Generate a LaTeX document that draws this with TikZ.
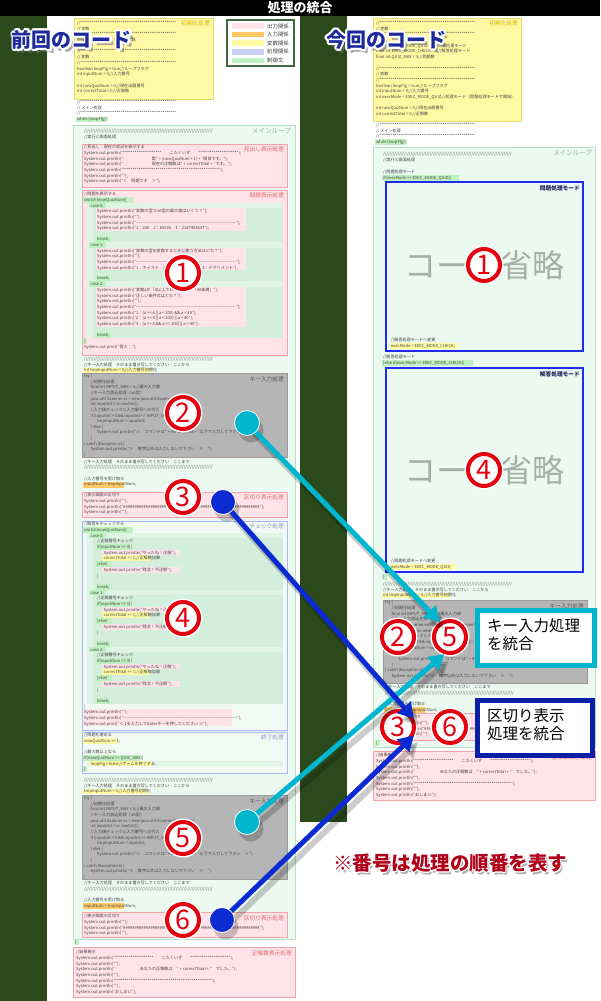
\documentclass[tikz,border=0pt]{standalone}
\usepackage{fontspec}
\setmainfont{Noto Sans CJK JP}
\usetikzlibrary{arrows.meta,positioning}
\definecolor{bggreen}{HTML}{2B4A1C}
\definecolor{varfill}{HTML}{FFF9A3}
\definecolor{vardraw}{HTML}{E6DA72}
\definecolor{varlbl}{HTML}{D2B400}
\definecolor{loopfill}{HTML}{EBF9F0}
\definecolor{loopdraw}{HTML}{B5E2C2}
\definecolor{looplbl}{HTML}{8DB59C}
\definecolor{outfill}{HTML}{FFE3E9}
\definecolor{outdraw}{HTML}{F2A3A8}
\definecolor{outlbl}{HTML}{E06A6A}
\definecolor{infill}{HTML}{FFC966}
\definecolor{keyfill}{HTML}{B5B5B5}
\definecolor{keydraw}{HTML}{9A9A9A}
\definecolor{keylbl}{HTML}{555555}
\definecolor{procfill}{HTML}{F0F9F4}
\definecolor{procdraw}{HTML}{A9B6F2}
\definecolor{proclbl}{HTML}{8A96C6}
\definecolor{procsw}{HTML}{C7CFF6}
\definecolor{ctrlfill}{HTML}{BFF0BF}
\definecolor{casefill}{HTML}{E0F4E6}
\definecolor{casefilldk}{HTML}{D3EEDB}
\definecolor{modedraw}{HTML}{1F2BF0}
\definecolor{modetxt}{HTML}{1E2060}
\definecolor{legenddraw}{HTML}{3D6B3D}
\definecolor{codetxt}{HTML}{444444}
\definecolor{numred}{HTML}{E4000F}
\definecolor{keycyan}{HTML}{00B6CF}
\definecolor{sepblue}{HTML}{0A2BD2}
\definecolor{noteblue}{HTML}{0A1FA8}
\definecolor{titleblue}{HTML}{1C2A9C}
\definecolor{notered}{HTML}{B0001A}
\definecolor{omitgray}{HTML}{A6AEA8}
% code helpers
\newcommand\codestars{**********}
\newcommand\codeslash{//////////}
\newcommand\codehash{\#\#\#\#\#\#\#\#\#\#}
\newcommand\codedash{-{}-{}-{}-{}-{}-{}-{}-{}-{}-{}}
\newcommand\cind{\hspace*{6.5pt}}
\newcommand\keyinputcode{try \{\\
\cind//初期化処理\\
\cind final int INPUT\_MAX = 3;//最大入力値\\
\cind//キー入力読込処理（int型）\\
\cind java.util.Scanner sc = new java.util.Scanner(System.in);\\
\cind int inputInt = sc.nextInt();\\
\cind//入力値チェックと入力番号への代入\\
\cind if (inputInt > 0 \&\& inputInt <= INPUT\_MAX) \{\\
\cind\cind tmpInputNum = inputInt;\\
\cind\} else \{\\
\cind\cind System.out.println("※　コマンドは" + INPUT\_MAX + "以下で入力して下さい　※");\\
\cind\}\\
\} catch (Exception e) \{\\
\cind System.out.println("※　数字以外は入力しないで下さい　※　");\\
\}}
\newcommand\sepcode{//表示画面の区切り\\
System.out.println("");\\
System.out.println("\codehash\codehash\codehash\codehash\codehash\codehash");\\
System.out.println("");}
\newcommand\resultcode{//結果表示\\
System.out.println("\codestars\codestars　　こたくいず　　\codestars\codestars");\\
System.out.println("");\\
System.out.println("　　　　　　あなたの正解数は　" + correctTotal + "　でした。");\\
System.out.println("");\\
System.out.println("\codestars\codestars\codestars\codestars\codestars");\\
System.out.println("");\\
System.out.println("おしまい");}

\begin{document}
\begin{tikzpicture}[x=1pt,y=-1pt]%
\tikzstyle{code}=[anchor=north west,inner sep=0pt,align=left,text=codetxt,font=\fontsize{4.1}{5.7}\selectfont]
\tikzstyle{keycode}=[code,font=\fontsize{4.1}{5.65}\selectfont]
\tikzstyle{boxlbl}=[anchor=north east,inner sep=0pt,font=\fontsize{5.7}{6}\selectfont]
\tikzstyle{looplbl}=[boxlbl,text=looplbl,font=\fontsize{6.5}{7}\selectfont]
\tikzstyle{legendtxt}=[anchor=west,inner sep=0pt,text=black!75,font=\fontsize{5.4}{6}\selectfont]
\tikzstyle{varbox}=[fill=varfill,draw=vardraw,line width=0.8pt]
\tikzstyle{loopbox}=[fill=loopfill,draw=loopdraw,line width=0.8pt]
\tikzstyle{outbox}=[fill=outfill,draw=outdraw,line width=0.8pt]
\tikzstyle{keybox}=[fill=keyfill,draw=keydraw,line width=0.6pt]
\tikzstyle{procbox}=[fill=procfill,draw=procdraw,line width=0.8pt]
\tikzstyle{modebox}=[fill=loopfill,draw=modedraw,line width=1.6pt]
\tikzstyle{modelbl}=[boxlbl,text=modetxt,font=\bfseries\fontsize{5.7}{6}\selectfont]
\tikzstyle{omit}=[text=omitgray,inner sep=0pt,font=\fontsize{32}{32}\selectfont]
\tikzstyle{numc}=[circle,draw=numred,line width=4pt,fill=white,minimum size=32pt,inner sep=0pt,text=numred,font=\fontsize{27}{27}\selectfont,preaction={draw=white,line width=7pt}]
\tikzstyle{ballc}=[circle,fill=keycyan,draw=white,line width=0.8pt,minimum size=25pt,inner sep=0pt]
\tikzstyle{ballb}=[circle,fill=sepblue,draw=white,line width=0.8pt,minimum size=25pt,inner sep=0pt]
\tikzstyle{arrc}=[keycyan,line width=5pt,-{Triangle[length=15pt,width=17pt]}]
\tikzstyle{arrb}=[sepblue,line width=5pt,-{Triangle[length=15pt,width=17pt]}]
\tikzstyle{shadowline}=[black,opacity=0.2,line width=6pt,-{Triangle[length=15pt,width=17pt]}]
\tikzstyle{notebox}=[fill=white,line width=4.5pt,anchor=north west,inner sep=0pt]
\tikzstyle{notetxt}=[anchor=north west,inner sep=0pt,align=left,text=black,font=\fontsize{15.5}{18}\selectfont]
\tikzstyle{headtxt}=[inner sep=0pt,font=\bfseries\fontsize{20}{20}\selectfont]
\useasboundingbox (0,0) rectangle (600,1001);
% background
\fill[bggreen] (0,0) rectangle (600,1001);
\fill[white] (47,15) rectangle (300,1001);
\fill[white] (347,15) rectangle (600,1001);
\fill[white] (300,822) rectangle (347,1001);
\fill[black] (0,0) rectangle (600,15.5);
\node[text=white,font=\bfseries\fontsize{13}{13}\selectfont] (title) at (300,8) {処理の統合};

% ---- previous code ----
\draw[varbox] (74,18) rectangle (213,99);
\node[boxlbl,text=varlbl] (initLt) at (210,21) {初期化処理};
\node[code] (initL) at (77,21) {//\codestars\codestars\codestars\codestars\codestars\\
// 定数\\
//\codestars\codestars\codestars\codestars\codestars\\
final int QUIZ\_MAX = 3;//問題数\\[5.7pt]
//\codestars\codestars\codestars\codestars\codestars\\
// 変数\\
//\codestars\codestars\codestars\codestars\codestars\\
boolean loopFlg = true;//ループフラグ\\
int inputNum = 0;//入力番号\\[5.7pt]
int nowQuizNum = 0;//現在出題番号\\
int correctTotal = 0;//正解数};
\draw[legenddraw,fill=white,line width=1.2pt] (227,20) rectangle (294,66);
\foreach \c/\t [count=\i] in {outfill/出力関係,infill/入力関係,varfill/変数関係,procsw/処理関係,ctrlfill/制御文}
  {\fill[\c] (232,14.6+\i*8.6) rectangle (264,20.2+\i*8.6);
   \node[legendtxt] (leg\i) at (267,17.4+\i*8.6) {\t};}
\fill[ctrlfill] (76,116.6) rectangle (107,122.4);
\node[code] (mainL) at (77,100) {//\codestars\codestars\codestars\codestars\codestars\\
// メイン処理\\
//\codestars\codestars\codestars\codestars\codestars\\
while (loopFlg) \{};
\draw[loopbox] (73,125) rectangle (295,939);
\node[looplbl] (loopLt) at (291,128) {メインループ};
\node[code] (loopLh) at (84,129) {\codeslash\codeslash\codeslash\codeslash\codeslash\codeslash\codeslash\codeslash\\//実行と画面処理};
% heading
\draw[outbox] (82,144) rectangle (287,187);
\node[boxlbl,text=outlbl] (headLt) at (284,147) {見出し表示処理};
\node[code] (headL) at (84,145) {//見出し：現在の状況を表示する\\
System.out.println("\codestars\codestars　　こたくいず　　\codestars\codestars");\\
System.out.println("　　　　　　　第" + (nowQuizNum + 1) + "問目です。");\\
System.out.println("　　　　　　　現在の正解数は" + correctTotal + "です。");\\
System.out.println("\codestars\codestars\codestars\codestars\codestars");\\
System.out.println("");\\
System.out.println("＜　問題です　＞");};
% quiz
\draw[outbox] (82,190) rectangle (287,355);
\node[boxlbl,text=outlbl] (quizLt) at (284,193) {問題表示処理};
\fill[ctrlfill] (83,196.8) rectangle (133,202.6);
\fill[casefill] (87,202.6) rectangle (283,338);
\foreach \a/\b/\c in {208.2/231.1/236.2,247.6/270.4/275.5,286.9/326.8/332.2}{
  \fill[casefilldk] (93,\a) rectangle (283,\c+5.7);
  \fill[outfill] (96,\a) rectangle (246,\b);
  \fill[ctrlfill] (96,\c) rectangle (110,\c+5.7);
  \fill[ctrlfill] (89,\a-5.6) rectangle (106,\a);}
\fill[ctrlfill] (83,337.9) rectangle (87,343.6);
\fill[outfill] (83,343.6) rectangle (141,349.3);
\node[code] (quizL) at (84,192) {//問題を表示する\\
switch(nowQuizNum)\{\\
\cind case 0:\\
\cind\cind System.out.println("変数の型でint型の最大値はいくつ？");\\
\cind\cind System.out.println("");\\
\cind\cind System.out.println("\codedash\codedash\codedash\codedash\codedash\codedash\codedash");\\
\cind\cind System.out.println("1：256　2：65536　3：2147483647");\\[5.1pt]
\cind\cind break;\\
\cind case 1:\\
\cind\cind System.out.println("変数の型を変換するときに使う方法はどれ？");\\
\cind\cind System.out.println("");\\
\cind\cind System.out.println("\codedash\codedash\codedash\codedash\codedash\codedash\codedash");\\
\cind\cind System.out.println("1：キャスト　2：インクリメント　3：デクリメント");\\[5.1pt]
\cind\cind break;\\
\cind case 2:\\
\cind\cind System.out.println("変数aが「4以上で100未満」か「40未満」");\\
\cind\cind System.out.println("正しい条件式はどれ？");\\
\cind\cind System.out.println("");\\
\cind\cind System.out.println("\codedash\codedash\codedash\codedash\codedash\codedash\codedash");\\
\cind\cind System.out.println("1：(a >= 4 || a < 100) \&\& a < 40");\\
\cind\cind System.out.println("2：(a >= 4 || a < 100) || a < 40");\\
\cind\cind System.out.println("3：(a >= 4 \&\& a <= 100) || a < 40");\\[5.4pt]
\cind\cind break;\\
\}\\
System.out.print("答え：");};
% key input 1
\fill[varfill] (83,367.7) rectangle (151,373.5);
\node[code] (keyLpre) at (84,357) {\codeslash\codeslash\codeslash\codeslash\codeslash\codeslash\codeslash\codeslash\\
//キー入力処理　そのまま書き写してください　ここから\\
int tmpInputNum = 0;//入力番号初期化};
\draw[keybox] (82,373.5) rectangle (287,457);
\node[boxlbl,text=keylbl] (keyLt) at (284,377) {キー入力処理};
\node[keycode] (keyL) at (84,374) {\keyinputcode};
\fill[infill] (83,481.8) rectangle (124,487.6);
\node[code] (keyLpost) at (84,459.5) {//キー入力処理　そのまま書き写してください　ここまで\\
\codeslash\codeslash\codeslash\codeslash\codeslash\codeslash\codeslash\codeslash\\[5.7pt]
//入力番号を受け取る\\
inputNum = tmpInputNum;};
\draw[outbox] (82,492) rectangle (287,517);
\node[boxlbl,text=outlbl] (sepL1t) at (284,495) {区切り表示処理};
\node[code] (sepL1) at (84,493) {\sepcode};
% check
\draw[procbox] (82,521) rectangle (287,730);
\node[boxlbl,text=proclbl] (checkLt) at (284,524) {チェック処理};
\fill[ctrlfill] (83,526.8) rectangle (133,532.5);
\fill[casefill] (87,532.5) rectangle (283,703.5);
\foreach \o in {0,57,114}{
  \fill[ctrlfill] (89,\o+532.5) rectangle (106,\o+538.2);
  \fill[casefilldk] (93,\o+538.2) rectangle (283,\o+589.6);
  \fill[ctrlfill] (96,\o+544) rectangle (130,\o+549.7);
  \fill[outfill] (102,\o+549.7) rectangle (180,\o+555.4);
  \fill[varfill] (102,\o+555.4) rectangle (150,\o+561.1);
  \fill[ctrlfill] (96,\o+561.1) rectangle (112,\o+566.8);
  \fill[outfill] (102,\o+566.8) rectangle (180,\o+572.5);
  \fill[ctrlfill] (96,\o+583.9) rectangle (110,\o+589.6);}
\fill[outfill] (83,709.2) rectangle (232,726.4);
\node[code] (checkL) at (84,522) {//解答をチェックする\\
switch(nowQuizNum)\{\\
\cind case 0:\\
\cind\cind//正解番号チェック\\
\cind\cind if(inputNum == 3)\{\\
\cind\cind\cind System.out.println("やったね！正解");\\
\cind\cind\cind correctTotal += 1;//正解数加算\\
\cind\cind\}else\{\\
\cind\cind\cind System.out.println("残念！不正解");\\
\cind\cind\}\\[5.7pt]
\cind\cind break;\\
\cind case 1:\\
\cind\cind//正解番号チェック\\
\cind\cind if(inputNum == 1)\{\\
\cind\cind\cind System.out.println("やったね！正解");\\
\cind\cind\cind correctTotal += 1;//正解数加算\\
\cind\cind\}else\{\\
\cind\cind\cind System.out.println("残念！不正解");\\
\cind\cind\}\\[5.7pt]
\cind\cind break;\\
\cind case 2:\\
\cind\cind//正解番号チェック\\
\cind\cind if(inputNum == 3)\{\\
\cind\cind\cind System.out.println("やったね！正解");\\
\cind\cind\cind correctTotal += 1;//正解数加算\\
\cind\cind\}else\{\\
\cind\cind\cind System.out.println("残念！不正解");\\
\cind\cind\}\\[5.7pt]
\cind\cind break;\\
\}\\
System.out.println("");\\
System.out.println("\codedash\codedash\codedash\codedash\codedash\codedash\codedash\codedash");\\
System.out.print("＜ 1を入力してEnterキーを押してください ＞");};
% end
\draw[procbox] (82,732) rectangle (287,773);
\node[boxlbl,text=proclbl] (endLt) at (284,735) {終了処理};
\fill[varfill] (83,737.8) rectangle (118,743.5);
\fill[ctrlfill] (83,754.9) rectangle (140,760.6);
\fill[casefill] (87,760.6) rectangle (283,766.3);
\fill[varfill] (89,760.6) rectangle (152,766.3);
\fill[ctrlfill] (83,766.3) rectangle (87,772);
\node[code] (endL) at (84,733) {//問題を進める\\
nowQuizNum += 1;\\[5.7pt]
//最大数以上なら\\
if(nowQuizNum >= QUIZ\_MAX)\{\\
\cind loopFlg = false;//ゲームを終了する\\
\}};
% key input 2
\fill[varfill] (83,788.5) rectangle (148,794.3);
\node[code] (keyL2pre) at (84,778) {\codeslash\codeslash\codeslash\codeslash\codeslash\codeslash\codeslash\codeslash\\
//キー入力処理　そのまま書き写してください　ここから\\
tmpInputNum = 0;//入力番号初期化};
\draw[keybox] (82,795) rectangle (287,879);
\node[boxlbl,text=keylbl] (keyL2t) at (284,799) {キー入力処理};
\node[keycode] (keyL2) at (84,796) {\keyinputcode};
\fill[infill] (83,903) rectangle (124,908.7);
\node[code] (keyL2post) at (84,881) {//キー入力処理　そのまま書き写してください　ここまで\\
\codeslash\codeslash\codeslash\codeslash\codeslash\codeslash\codeslash\codeslash\\[5.7pt]
//入力番号を受け取る\\
inputNum = tmpInputNum;};
\draw[outbox] (82,912) rectangle (287,937);
\node[boxlbl,text=outlbl] (sepL2t) at (284,915) {区切り表示処理};
\node[code] (sepL2) at (84,914) {\sepcode};
\fill[ctrlfill] (74,939.2) rectangle (79,945);
\node[code] (loopLend) at (75,940) {\}};
\draw[outbox] (73,947) rectangle (295,997);
\node[boxlbl,text=outlbl] (resLt) at (292,950) {正解数表示処理};
\node[code] (resL) at (76,950) {\resultcode};

% ---- current code ----
\draw[varbox] (373,18) rectangle (521,121);
\node[boxlbl,text=varlbl] (initRt) at (518,21) {初期化処理};
\node[code] (initR) at (376,21) {//\codestars\codestars\codestars\codestars\codestars\\
// 定数\\
//\codestars\codestars\codestars\codestars\codestars\\[5.7pt]
final int EXEC\_MODE\_QUIZ = 1;//問題処理モード\\
final int EXEC\_MODE\_CHECK = 2;//解答処理モード\\
final int QUIZ\_MAX = 3;//問題数\\[5.7pt]
//\codestars\codestars\codestars\codestars\codestars\\
// 変数\\
//\codestars\codestars\codestars\codestars\codestars\\
boolean loopFlg = true;//ループフラグ\\
int inputNum = 0;//入力番号\\
int execMode = EXEC\_MODE\_QUIZ;//処理モード（問題処理モードで開始）\\[5.7pt]
int nowQuizNum = 0;//現在出題番号\\
int correctTotal = 0;//正解数};
\fill[ctrlfill] (375,139.2) rectangle (406,145);
\node[code] (mainR) at (376,123) {//\codestars\codestars\codestars\codestars\codestars\\
// メイン処理\\
//\codestars\codestars\codestars\codestars\codestars\\
while (loopFlg) \{};
\draw[loopbox] (373,147) rectangle (595,747);
\node[looplbl] (loopRt) at (592,150) {メインループ};
\node[code] (loopRh) at (383,152) {\codeslash\codeslash\codeslash\codeslash\codeslash\codeslash\codeslash\codeslash\\//実行と画面処理};
\fill[ctrlfill] (382,174.8) rectangle (459,180.6);
\node[code] (quizRif) at (383,170) {//問題処理モード\\if(execMode == EXEC\_MODE\_QUIZ)\{};
\draw[modebox] (386,182) rectangle (583,351);
\node[modelbl] (quizRt) at (580,185.5) {問題処理モード};
\node[omit] (omit1) at (484,265) {コード省略};
\fill[varfill] (390,342.8) rectangle (458,348.6);
\node[code] (quizRend) at (391,338) {//解答処理モードへ変更\\execMode = EXEC\_MODE\_CHECK;};
\fill[ctrlfill] (382,359.8) rectangle (473,365.6);
\node[code] (checkRif) at (383,355) {//解答処理モード\\\}else if(execMode == EXEC\_MODE\_CHECK)\{};
\draw[modebox] (386,368) rectangle (583,572);
\node[modelbl] (checkRt) at (580,371.5) {解答処理モード};
\node[omit] (omit4) at (484,470) {コード省略};
\fill[varfill] (390,563.8) rectangle (455,569.6);
\node[code] (checkRend) at (391,559) {//問題処理モードへ変更\\execMode = EXEC\_MODE\_QUIZ;};
\fill[ctrlfill] (382,574) rectangle (387,579.7);
\node[code] (checkRclose) at (383,575) {\}};
\fill[varfill] (382,592.5) rectangle (450,598.3);
\node[code] (keyRpre) at (383,582) {\codeslash\codeslash\codeslash\codeslash\codeslash\codeslash\codeslash\codeslash\\
//キー入力処理　そのまま書き写してください　ここから\\
int tmpInputNum = 0;//入力番号初期化};
\draw[keybox] (383,600) rectangle (587,683);
\node[boxlbl,text=keylbl] (keyRt) at (584,603.5) {キー入力処理};
\node[keycode] (keyR) at (385,600.5) {\keyinputcode};
\fill[infill] (384,706.9) rectangle (425,712.7);
\node[code] (keyRpost) at (385,685) {//キー入力処理　そのまま書き写してください　ここまで\\
\codeslash\codeslash\codeslash\codeslash\codeslash\codeslash\codeslash\codeslash\\[5.7pt]
//入力番号を受け取る\\
inputNum = tmpInputNum;};
\draw[outbox] (383,713.5) rectangle (587,740);
\node[boxlbl,text=outlbl] (sepRt) at (584,716.5) {区切り表示処理};
\node[code] (sepR) at (385,715) {\sepcode};
\fill[ctrlfill] (375,740.4) rectangle (380,746.1);
\node[code] (loopRend) at (376,741.2) {\}};
\draw[outbox] (373,751) rectangle (595,800);
\node[boxlbl,text=outlbl] (resRt) at (592,754) {正解数表示処理};
\node[code] (resR) at (376,753) {\resultcode};

% headings
\node[headtxt,text=black!55,opacity=0.6] (prevs) at (75.5,44) {前回のコード};
\node[headtxt,text=black!55,opacity=0.6] (nows) at (389.5,44) {今回のコード};
\foreach \a in {0,30,...,330}{
  \node[headtxt,text=white] (prevw\a) at ([shift={(\a:2)}]72,40) {前回のコード};
  \node[headtxt,text=white] (noww\a) at ([shift={(\a:2)}]386,40) {今回のコード};}
\node[headtxt,text=titleblue] (prev) at (72,40) {前回のコード};
\node[headtxt,text=titleblue] (now) at (386,40) {今回のコード};

% numbers
\node[numc] (l1) at (183,273) {1};
\node[numc] (l2) at (183,413) {2};
\node[numc] (l3) at (183,497) {3};
\node[numc] (l4) at (183,618) {4};
\node[numc] (l5) at (183,838) {5};
\node[numc] (l6) at (183,920) {6};
\node[numc] (r1) at (484,265) {1};
\node[numc] (r4) at (484,470) {4};
\node[numc] (r2) at (398,637) {2};
\node[numc] (r5) at (450,637) {5};
\node[numc] (r3) at (398,727) {3};
\node[numc] (r6) at (450,727) {6};

% arrows
\coordinate (k1) at (247,423);
\coordinate (k2) at (247,822);
\coordinate (b1) at (223,502);
\coordinate (b2) at (222,920);
\begin{scope}[transform canvas={shift={(4,7)}}]
\draw[shadowline] (k1) -- (r5.124);
\draw[shadowline] (k2) -- (r5.252);
\draw[shadowline] (b1) -- (r3.28);
\draw[shadowline] (b2) -- (r3.-28);
\foreach \p in {k1,k2,b1,b2} \fill[black,opacity=0.2] (\p) circle (12.5);
\end{scope}
\draw[arrc] (k1) -- (r5.124);
\draw[arrc] (k2) -- (r5.252);
\draw[arrb] (b1) -- (r3.28);
\draw[arrb] (b2) -- (r3.-28);
\node[ballc] (k1d) at (k1) {};
\node[ballc] (k2d) at (k2) {};
\node[ballb] (b1d) at (b1) {};
\node[ballb] (b2d) at (b2) {};

% notes
\node[notebox,draw=keycyan,minimum width=117pt,minimum height=55pt] (noteKey) at (475,608) {};
\node[notetxt] (noteKeyt) at (487,618.5) {キー入力処理\\を統合};
\node[notebox,draw=noteblue,minimum width=115pt,minimum height=55pt] (noteSep) at (475,698) {};
\node[notetxt] (noteSept) at (487,708.5) {区切り表示\\処理を統合};
\node[text=black!50,opacity=0.6,font=\bfseries\fontsize{19.5}{20}\selectfont] (orders) at (452,866) {※番号は処理の順番を表す};
\foreach \a in {0,45,...,315}
  \node[text=white,font=\bfseries\fontsize{19.5}{20}\selectfont] (orderw\a) at ([shift={(\a:1.3)}]450,863) {※番号は処理の順番を表す};
\node[text=notered,font=\bfseries\fontsize{19.5}{20}\selectfont] (order) at (450,863) {※番号は処理の順番を表す};
\end{tikzpicture}
\end{document}
